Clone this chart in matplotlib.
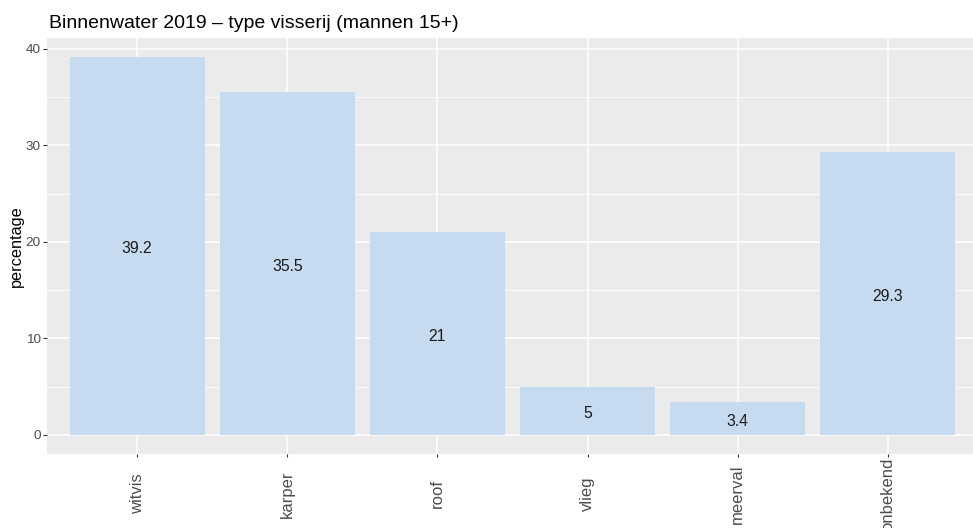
import matplotlib
matplotlib.use("Agg")
import matplotlib.pyplot as plt
import matplotlib.transforms as mtransforms
from matplotlib.ticker import MultipleLocator

plt.rcParams["font.family"] = ["Liberation Sans", "DejaVu Sans"]

categories = ["witvis", "karper", "roof", "vlieg", "meerval", "onbekend"]
percentages = [39.2, 35.5, 21, 5, 3.4, 29.3]
value_labels = ["39.2", "35.5", "21", "5", "3.4", "29.3"]

BAR_COLOR = "#C6DBEF"
PANEL_BG = "#EBEBEB"

fig = plt.figure(figsize=(9.73, 5.28), dpi=100)
# panel runs slightly past the right edge, as in the reference
ax = fig.add_axes([47 / 973, 1 - 453.9 / 528, 931 / 973, 416.1 / 528])
ax.set_facecolor(PANEL_BG)

x = list(range(1, len(categories) + 1))
ax.bar(x, percentages, width=0.9, color=BAR_COLOR, zorder=2)
# nudge value labels down a little, ggplot centres the full text box
label_trans = ax.transData + mtransforms.ScaledTranslation(0, -2.5 / 100, fig.dpi_scale_trans)
for xi, val, lab in zip(x, percentages, value_labels):
    ax.text(xi, val / 2, lab, ha="center", va="center", fontsize=11.3,
            color="#1A1A1A", zorder=3, transform=label_trans)

ax.set_xlim(0.4, 6.6)
ax.set_ylim(-1.96, 41.16)
ax.set_xticks(x)
ax.set_xticklabels([])
# rotated category labels, centred vertically like ggplot's angle=90
trans = mtransforms.blended_transform_factory(ax.transData, fig.transFigure)
for xi, cat in zip(x, categories):
    ax.text(xi, 1 - 494 / 528, cat, rotation=90, ha="center", va="center",
            fontsize=12, color="#4D4D4D", transform=trans, clip_on=False)

ax.yaxis.set_major_locator(MultipleLocator(10))
ax.yaxis.set_minor_locator(MultipleLocator(5))
ax.tick_params(axis="y", labelsize=9.7, labelcolor="#4D4D4D", color="#333333",
               length=3, width=0.8, pad=1.5)
ax.tick_params(axis="x", color="#333333", length=2.5, width=0.8)
ax.tick_params(axis="y", which="minor", length=0)

ax.grid(True, which="major", color="white", linewidth=1.1, zorder=0)
ax.grid(True, which="minor", axis="y", color="white", linewidth=0.55, zorder=0)
ax.set_axisbelow(True)
for spine in ax.spines.values():
    spine.set_visible(False)

ax.set_ylabel("percentage", fontsize=11.7, color="black", labelpad=1)
fig.text(49 / 973, 1 - 28 / 528, "Binnenwater 2019 \u2013 type visserij (mannen 15+)",
         fontsize=14, color="black", ha="left", va="baseline")

fig.savefig("out.png", dpi=100)
